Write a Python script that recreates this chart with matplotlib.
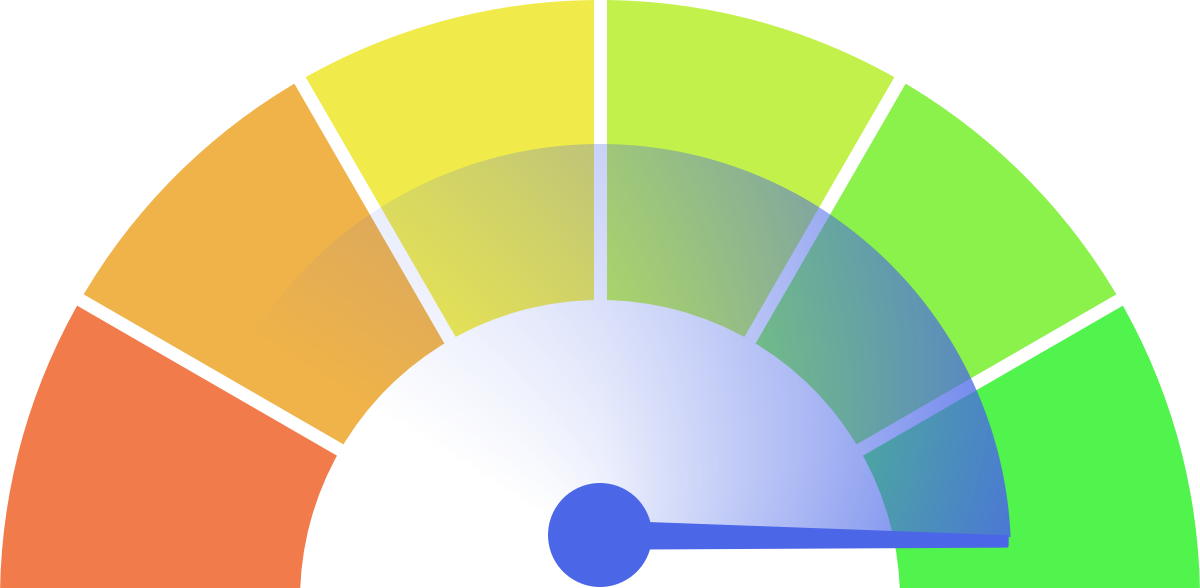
import numpy as np
import matplotlib
matplotlib.use("Agg")
from matplotlib import pyplot as plt
from matplotlib.patches import Wedge, Circle, Polygon

# gauge data (value scale 0..6, one band per unit)
band_edges  = [0, 1, 2, 3, 4, 5, 6]
band_colors = ['#F27B4B', '#F0B34A', '#F0EB4B', '#C3F14B', '#8BF24B', '#51F34D']
gauge_value = 6.03

# geometry in pixel-like units (y up)
cx, cy = 600, -12          # centre of the coloured ring
r_in, r_out = 300, 600
hub_x, hub_y, hub_r = 600, 53, 52
ov_x, ov_y, ov_r = 600, 33, 411   # tinted sweep behind the needle
needle_color = '#4B67E8'

def val2ang(v):
    return 180.0 - 180.0 * (v - band_edges[0]) / (band_edges[-1] - band_edges[0])

fig = plt.figure(figsize=(12, 5.88), dpi=100)
ax = fig.add_axes([0, 0, 1, 1])
ax.set_xlim(0, 1200)
ax.set_ylim(0, 588)
ax.set_aspect('equal')
ax.axis('off')

# coloured bands
for lo, hi, col in zip(band_edges[:-1], band_edges[1:], band_colors):
    ax.add_patch(Wedge((cx, cy), r_out, val2ang(hi), val2ang(lo),
                       width=r_out - r_in, facecolor=col, edgecolor='none', zorder=1))

# white gaps between bands
for e in band_edges[1:-1]:
    a = np.radians(val2ang(e))
    ax.plot([cx + 290 * np.cos(a), cx + 615 * np.cos(a)],
            [cy + 290 * np.sin(a), cy + 615 * np.sin(a)],
            color='white', lw=9.4, solid_capstyle='butt', zorder=2)

# needle shape (local frame, then rotated)
ang = np.radians(val2ang(gauge_value))
length, w0, w1 = 407, 13, 4.5
local = np.array([[0, w0], [length, w1], [length, -w1], [0, -w0]])
rot = np.array([[np.cos(ang), -np.sin(ang)], [np.sin(ang), np.cos(ang)]])
needle_pts = local @ rot.T + [hub_x, hub_y]

# tinted sweep: fades in from the left, strongest at the outer edge near the needle
top0, top1 = needle_pts[0], needle_pts[1]
slope = (top1[1] - top0[1]) / (top1[0] - top0[0])
xs = np.linspace(900, 1100, 2001)
ys = top0[1] + slope * (xs - top0[0])
k = np.argmin(np.abs(np.hypot(xs - ov_x, ys - ov_y) - ov_r))
end_ang = np.degrees(np.arctan2(ys[k] - ov_y, xs[k] - ov_x))
arc_t = np.radians(np.linspace(end_ang, 180, 300))
clip_pts = np.vstack([np.c_[ov_x + ov_r * np.cos(arc_t), ov_y + ov_r * np.sin(arc_t)],
                      [[hub_x, top0[1] + slope * (hub_x - top0[0])]]])
clip = Polygon(clip_pts, closed=True, facecolor='none', edgecolor='none')
ax.add_patch(clip)

gx, gy = np.meshgrid(np.arange(180, 1030, 1.0), np.arange(20, 460, 1.0))
theta = np.degrees(np.arctan2(gy - ov_y, gx - ov_x))
theta = np.clip(np.where(theta < -90, theta + 360, theta), 0, 180)
rr = np.hypot(gx - ov_x, gy - ov_y)
ang_alpha = np.interp(theta, [0, 50, 90, 120, 148, 180], [0.9, 0.6, 0.3, 0.13, 0.0, 0.0])
alpha = ang_alpha * (0.15 + 0.85 * np.clip(rr / ov_r, 0, 1))
rgba = np.zeros(gx.shape + (4,))
rgba[..., 0], rgba[..., 1], rgba[..., 2] = 74 / 255, 103 / 255, 232 / 255
rgba[..., 3] = np.clip(alpha, 0, 1)
im = ax.imshow(rgba, extent=(180, 1030, 20, 460), origin='lower',
               interpolation='bilinear', zorder=3)
im.set_clip_path(clip)

# needle and hub
ax.add_patch(Polygon(needle_pts, closed=True, facecolor=needle_color,
                     edgecolor=needle_color, lw=2.5, joinstyle='round', zorder=4))
ax.add_patch(Circle((hub_x, hub_y), hub_r, facecolor=needle_color,
                    edgecolor='none', zorder=5))

fig.savefig('out.png', dpi=100, facecolor='white')
